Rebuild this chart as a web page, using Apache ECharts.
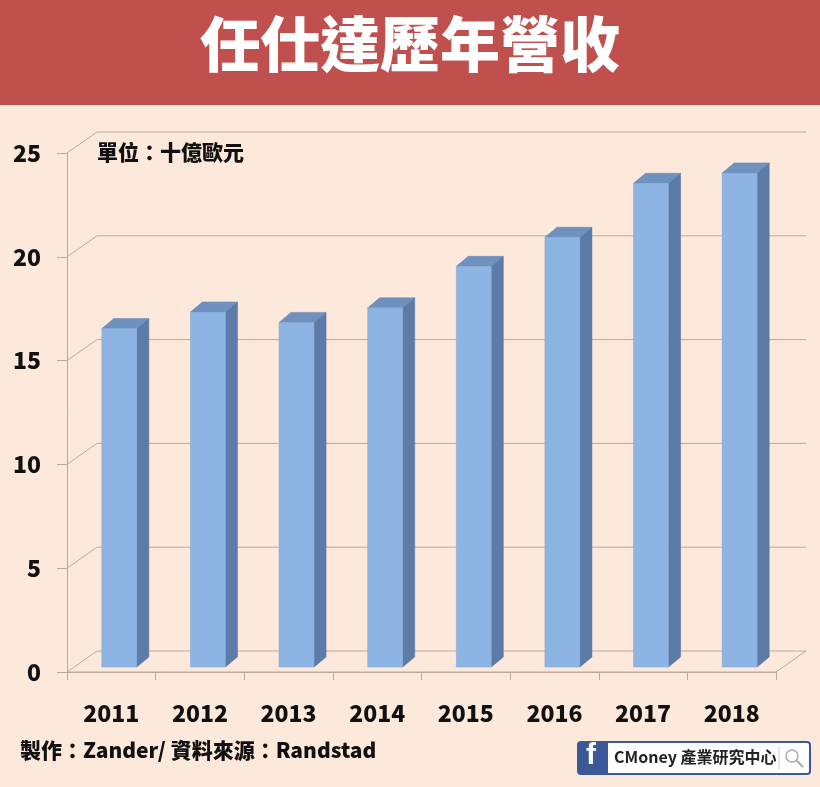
<!DOCTYPE html>
<html><head><meta charset="utf-8">
<script src="https://cdn.jsdelivr.net/npm/echarts@6/dist/echarts.min.js"></script>
<style>html,body{margin:0;padding:0;background:#fde9db}#c{width:820px;height:787px}</style>
</head><body><div id="c"></div>
<script>
var years = ['2011', '2012', '2013', '2014', '2015', '2016', '2017', '2018'];
var revenue = [16.3, 17.1, 16.6, 17.3, 19.3, 20.7, 23.3, 23.8];
var gridTicks = [0, 5, 10, 15, 20, 25];

var DX = 30, DY = -21;   // 牆面深度
var BD = 12, BDY = -10;  // 柱子深度
var FONT = '"Noto Sans CJK TC", "Noto Sans CJK SC", sans-serif';

var chart = echarts.init(document.getElementById('c'));

function wallItem(params, api) {
    var p = api.coord([0, api.value(0)]);
    var left = 67, right = 776;
    var y = p[1];
    var lines = [
        {type: 'polyline', shape: {points: [[left, y], [left + DX, y + DY], [right + DX, y + DY]]},
         style: {stroke: '#b9aaa0', lineWidth: 1, fill: null}, silent: true}
    ];
    if (api.value(0) === 0) {
        lines.push({type: 'polyline', shape: {points: [[left, y], [right, y], [right + DX, y + DY]]},
            style: {stroke: '#b9aaa0', lineWidth: 1, fill: null}, silent: true});
    }
    return {type: 'group', children: lines};
}

function barItem(params, api) {
    var base = api.coord([api.value(0), 0]);
    var top = api.coord([api.value(0), api.value(1)]);
    var w = 35;
    var x0 = base[0] - w / 2 + 8, x1 = x0 + w;
    var yb = base[1] - 5, yt = top[1] - 5;
    return {
        type: 'group',
        children: [
            {type: 'polygon', shape: {points: [[x1, yb], [x1 + BD, yb + BDY], [x1 + BD, yt + BDY], [x1, yt]]},
             style: {fill: '#5b7ca6', stroke: '#4f6e96', lineWidth: 0.5}},
            {type: 'polygon', shape: {points: [[x0, yt], [x0 + BD, yt + BDY], [x1 + BD, yt + BDY], [x1, yt]]},
             style: {fill: '#6f91bf', stroke: '#5e80ab', lineWidth: 0.5}},
            {type: 'rect', shape: {x: x0, y: yt, width: w, height: yb - yt},
             style: {fill: '#8db4e3', stroke: '#7ea3d0', lineWidth: 0.5}}
        ]
    };
}

var option = {
    backgroundColor: '#fde9db',
    animation: false,
    grid: {left: 67, right: 44, top: 153, bottom: 115},
    xAxis: {
        type: 'category',
        data: years,
        axisLine: {lineStyle: {color: '#b9aaa0'}},
        axisTick: {show: true, length: 8, lineStyle: {color: '#b9aaa0'}},
        axisLabel: {fontSize: 23, fontWeight: 900, color: '#111', margin: 30, fontFamily: FONT}
    },
    yAxis: {
        type: 'value',
        min: 0, max: 25, interval: 5,
        axisLine: {show: true, lineStyle: {color: '#b9aaa0'}},
        axisTick: {show: true, length: 10, lineStyle: {color: '#b9aaa0'}},
        splitLine: {show: false},
        axisLabel: {fontSize: 23, fontWeight: 900, color: '#111', margin: 26, fontFamily: FONT}
    },
    series: [
        {type: 'custom', renderItem: wallItem, data: gridTicks.map(function (v) { return [v]; }), z: 1},
        {type: 'custom', renderItem: barItem,
         data: revenue.map(function (v, i) { return [i, v]; }), z: 5}
    ],
    graphic: [
        {type: 'rect', shape: {x: 0, y: 0, width: 820, height: 105}, style: {fill: '#c0504d'}},
        {type: 'text', left: 'center', top: 14, style: {text: '任仕達歷年營收', fill: '#fff',
            font: '900 60px ' + FONT}},
        {type: 'text', left: 97, top: 142, style: {text: '單位：十億歐元', fill: '#111',
            font: '900 21px ' + FONT}},
        {type: 'text', left: 20, top: 740, style: {text: '製作：Zander/ 資料來源：Randstad', fill: '#111',
            font: '900 21px ' + FONT}},
        {type: 'rect', shape: {x: 578, y: 742, width: 232, height: 32, r: 3},
         style: {fill: '#fff', stroke: '#3b5998', lineWidth: 2}},
        {type: 'rect', shape: {x: 578, y: 742, width: 30, height: 32, r: [3, 0, 0, 3]}, style: {fill: '#3b5998'}},
        {type: 'text', left: 586, top: 741, style: {text: 'f', fill: '#fff', font: 'bold 30px Arial'}},
        {type: 'text', left: 614, top: 749, style: {text: 'CMoney 產業研究中心', fill: '#222',
            font: 'bold 16px ' + FONT}},
        {type: 'line', shape: {x1: 779, y1: 747, x2: 779, y2: 769}, style: {stroke: '#ccc'}},
        {type: 'circle', shape: {cx: 792, cy: 756, r: 6}, style: {fill: null, stroke: '#aaa', lineWidth: 1.5}},
        {type: 'line', shape: {x1: 796, y1: 760, x2: 803, y2: 767}, style: {stroke: '#aaa', lineWidth: 2}}
    ]
};
chart.setOption(option);
</script>
</body></html>
